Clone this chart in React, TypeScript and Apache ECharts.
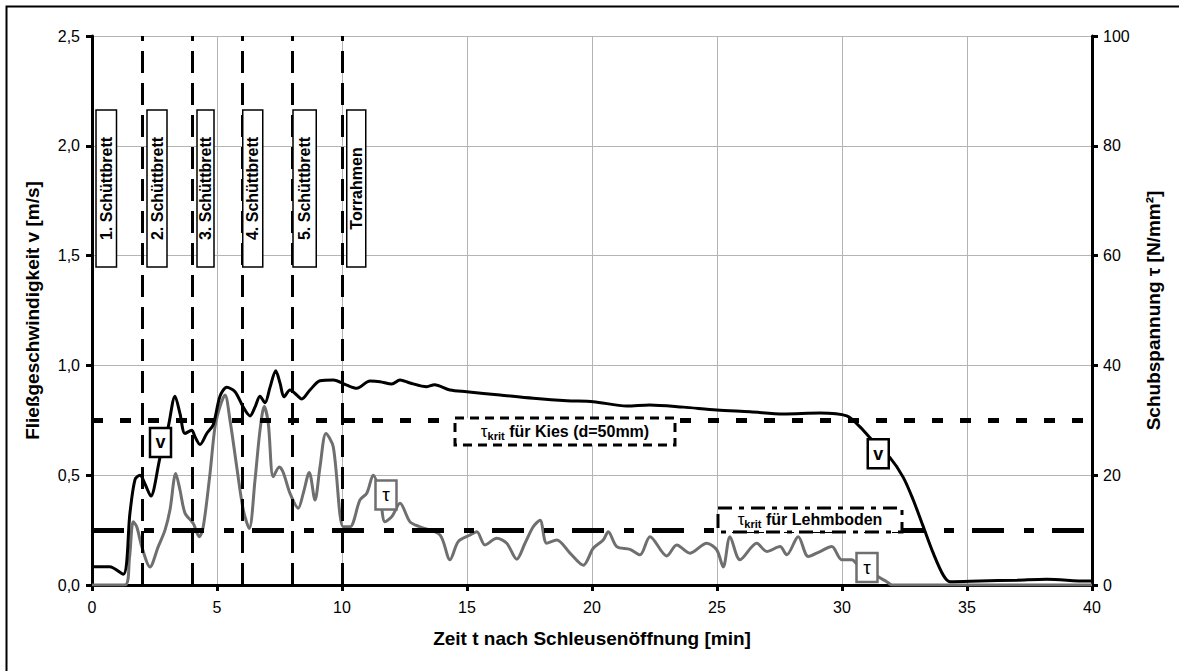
import React, { useEffect, useRef } from "react";
import * as echarts from "echarts";

// ---------- data ----------
const timeV = [0, 0.7, 1.25, 1.52, 1.72, 1.92, 2.12, 2.35, 2.72, 3.05, 3.32, 3.52, 3.72, 3.99, 4.12, 4.32, 4.59, 4.85, 5.12, 5.39, 5.72, 6.05, 6.32, 6.52, 6.72, 6.92, 7.12, 7.35, 7.52, 7.68, 7.92, 8.19, 8.39, 8.72, 9.12, 9.65, 10.19, 10.59, 11.12, 11.52, 11.99, 12.32, 12.72, 13.39, 13.7, 14.32, 14.99, 16.32, 17.65, 18.99, 20.05, 21.39, 22.3, 23.65, 24.99, 26.32, 27.65, 29.12, 30.19, 30.72, 31.12, 31.92, 32.45, 32.85, 33.25, 33.65, 34.05, 34.32, 35.5, 37, 38.19, 39.79, 40];
const velocity = [0.083, 0.083, 0.049, 0.33, 0.48, 0.5, 0.46, 0.405, 0.58, 0.72, 0.86, 0.78, 0.69, 0.705, 0.675, 0.64, 0.69, 0.73, 0.86, 0.9, 0.88, 0.81, 0.77, 0.81, 0.86, 0.83, 0.9, 0.976, 0.92, 0.857, 0.888, 0.865, 0.847, 0.888, 0.93, 0.934, 0.91, 0.896, 0.929, 0.926, 0.915, 0.934, 0.92, 0.903, 0.912, 0.888, 0.88, 0.865, 0.85, 0.839, 0.835, 0.815, 0.82, 0.81, 0.797, 0.789, 0.779, 0.783, 0.77, 0.72, 0.67, 0.58, 0.49, 0.387, 0.266, 0.145, 0.045, 0.015, 0.018, 0.022, 0.026, 0.018, 0.018];

const timeTau = [0, 1.32, 1.5, 1.65, 1.79, 1.99, 2.32, 2.65, 2.92, 3.12, 3.35, 3.52, 3.72, 4.05, 4.29, 4.45, 4.72, 4.92, 5.12, 5.32, 5.52, 5.79, 6.05, 6.29, 6.52, 6.72, 6.89, 7.05, 7.25, 7.49, 7.65, 7.92, 8.25, 8.45, 8.69, 8.92, 9.12, 9.36, 9.65, 10.05, 10.32, 10.72, 10.99, 11.25, 11.5, 11.72, 12.0, 12.32, 12.72, 13.12, 13.92, 14.32, 14.65, 15.12, 15.39, 15.72, 16.19, 16.59, 16.99, 17.32, 17.65, 17.92, 18.19, 18.59, 19.12, 19.65, 20.05, 20.45, 20.65, 20.99, 21.52, 21.92, 22.32, 22.99, 23.39, 23.92, 24.59, 24.99, 25.25, 25.52, 25.92, 26.59, 26.99, 27.52, 27.79, 28.25, 28.65, 29.12, 29.59, 29.99, 30.39, 30.65, 31.0, 31.45, 31.79, 32.0, 40];
const shear = [0, 0, 5, 11.5, 10.6, 7.0, 3.3, 7.0, 10.0, 13.7, 20.3, 17.3, 13.1, 11.2, 8.8, 10.6, 20.3, 28.8, 32.5, 34.6, 30.0, 21.5, 13.7, 10.3, 19.1, 28.2, 32.5, 29.5, 19.7, 21.5, 20.5, 16.7, 14.0, 16.7, 20.5, 15.5, 21.5, 27.6, 25.2, 10.6, 10.6, 15.5, 16.7, 20.0, 17.0, 11.5, 12.5, 14.9, 11.5, 10.6, 9.1, 4.6, 7.9, 9.1, 9.7, 7.3, 8.5, 7.6, 4.7, 7.6, 10.6, 11.8, 7.6, 8.2, 5.8, 3.6, 6.7, 8.2, 9.7, 7.0, 6.5, 5.5, 8.8, 5.3, 7.3, 5.8, 7.6, 6.4, 3.3, 8.8, 4.6, 7.6, 6.1, 7.0, 5.5, 8.8, 5.2, 6.1, 7.0, 4.6, 4.6, 3.6, 3.0, 1.5, 0.6, 0, 0];

const phaseLineT = [2, 4, 6, 8, 10];
const phaseLabels = ["1. Schüttbrett", "2. Schüttbrett", "3. Schüttbrett", "4. Schüttbrett", "5. Schüttbrett", "Torrahmen"];
const phaseBoxStart = [0.16, 2.2, 4.2, 6.03, 8.04, 10.19];
const phaseBoxEnd = [0.98, 3.0, 4.88, 6.83, 8.97, 10.95];
const phaseBoxTopV = 2.163;
const phaseBoxBottomV = 1.448;

const tauKies = 30;
const tauLehm = 10;
const critLabels = ["für Kies (d=50mm)", "für Lehmboden"];
const critLabelT = [18.92, 28.72];
const critLabelV = [0.699, 0.296];

const seriesTagText = ["v", "v", "τ", "τ"];
const seriesTagT = [2.74, 31.45, 11.76, 31.0];
const seriesTagV = [0.649, 0.598, 0.41, 0.08];

const FONT = "'Liberation Sans', Arial, Helvetica, sans-serif";
const GRAY = "#6f6f6f";

export default function App() {
  const ref = useRef<HTMLDivElement>(null);
  useEffect(() => {
    const chart = echarts.init(ref.current!, null, { renderer: "svg" });
    const vData = timeV.map((t, i) => [t, velocity[i]]);
    const tauData = timeTau.map((t, i) => [t, shear[i]]);
    chart.setOption({
      animation: false,
      backgroundColor: "#ffffff",
      textStyle: { fontFamily: FONT },
      grid: { left: 92, right: 87, top: 36, bottom: 86 },
      xAxis: {
        type: "value",
        min: 0,
        max: 40,
        interval: 5,
        name: "Zeit t nach Schleusenöffnung [min]",
        nameLocation: "middle",
        nameGap: 44,
        nameTextStyle: { fontSize: 19, fontWeight: "bold", color: "#000", fontFamily: FONT },
        axisLine: { lineStyle: { color: "#000", width: 3 } },
        axisTick: { show: true, length: 6, lineStyle: { color: "#000", width: 3 } },
        axisLabel: { fontSize: 16, color: "#000", margin: 14, fontFamily: FONT },
        splitLine: { show: true, lineStyle: { color: "#b4b4b4", width: 1 } },
      },
      yAxis: [
        {
          type: "value",
          min: 0,
          max: 2.5,
          interval: 0.5,
          position: "left",
          name: "Fließgeschwindigkeit v [m/s]",
          nameLocation: "middle",
          nameRotate: 90,
          nameGap: 50,
          nameTextStyle: { fontSize: 19, fontWeight: "bold", color: "#000", fontFamily: FONT },
          axisLine: { show: true, lineStyle: { color: "#000", width: 3 } },
          axisTick: { show: true, length: 6, lineStyle: { color: "#000", width: 3 } },
          axisLabel: {
            fontSize: 16,
            color: "#000",
            margin: 12,
            fontFamily: FONT,
            formatter: (val: number) => val.toFixed(1).replace(".", ","),
          },
          splitLine: { show: true, lineStyle: { color: "#b4b4b4", width: 1 } },
        },
        {
          type: "value",
          min: 0,
          max: 100,
          interval: 20,
          position: "right",
          name: "Schubspannung τ [N/mm²]",
          nameLocation: "middle",
          nameRotate: 90,
          nameGap: 52,
          nameTextStyle: { fontSize: 19, fontWeight: "bold", color: "#000", fontFamily: FONT },
          axisLine: { show: true, lineStyle: { color: "#000", width: 3 } },
          axisTick: { show: true, length: 6, lineStyle: { color: "#000", width: 3 } },
          axisLabel: { fontSize: 16, color: "#000", margin: 11, fontFamily: FONT },
          splitLine: { show: false },
        },
      ],
      series: [
        {
          name: "v",
          type: "line",
          yAxisIndex: 0,
          data: vData,
          smooth: 0.3,
          showSymbol: false,
          symbol: "none",
          lineStyle: { color: "#000", width: 3 },
          z: 4,
          markLine: {
            silent: true,
            symbol: "none",
            label: { show: false },
            lineStyle: { color: "#000", width: 3, type: [22, 10] },
            data: phaseLineT.map((t) => ({ xAxis: t })),
          },
        },
        {
          name: "τ",
          type: "line",
          yAxisIndex: 1,
          data: tauData,
          smooth: 0.3,
          showSymbol: false,
          symbol: "none",
          lineStyle: { color: GRAY, width: 3 },
          z: 3,
          markLine: {
            silent: true,
            symbol: "none",
            label: { show: false },
            data: [
              { yAxis: tauKies, lineStyle: { color: "#000", width: 5, type: [11, 17] } },
              { yAxis: tauLehm, lineStyle: { color: "#000", width: 5, type: [32, 20, 10, 18] } },
            ],
          },
        },
      ],
    });

    const px = (t: number, v: number) => chart.convertToPixel({ seriesIndex: 0 }, [t, v]) as number[];
    const els: any[] = [];
    // outer frame
    els.push({
      type: "rect",
      z: 200,
      silent: true,
      shape: { x: 6.5, y: 6.5, width: 1200, height: 700 },
      style: { fill: "none", stroke: "#000", lineWidth: 2 },
    });
    // phase boxes
    phaseLabels.forEach((lab, i) => {
      const p1 = px(phaseBoxStart[i], phaseBoxTopV);
      const p2 = px(phaseBoxEnd[i], phaseBoxBottomV);
      els.push({
        type: "rect",
        z: 100,
        shape: { x: p1[0], y: p1[1], width: p2[0] - p1[0], height: p2[1] - p1[1] },
        style: { fill: "#fff", stroke: "#000", lineWidth: 1.5 },
      });
      els.push({
        type: "text",
        z: 101,
        x: (p1[0] + p2[0]) / 2,
        y: (p1[1] + p2[1]) / 2,
        rotation: Math.PI / 2,
        style: {
          text: lab,
          fontSize: 16,
          fontWeight: "bold",
          fontFamily: FONT,
          fill: "#000",
          align: "center",
          verticalAlign: "middle",
        },
      });
    });
    // critical shear labels
    const critW = [220, 184];
    const critH = [27, 24];
    const critDash = [[9, 6], [14, 7, 5, 7]];
    critLabels.forEach((lab, i) => {
      const c = px(critLabelT[i], critLabelV[i]);
      els.push({
        type: "rect",
        z: 100,
        shape: { x: c[0] - critW[i] / 2, y: c[1] - critH[i] / 2, width: critW[i], height: critH[i] },
        style: { fill: "#fff", stroke: "#000", lineWidth: 3, lineDash: critDash[i] },
      });
      els.push({
        type: "text",
        z: 101,
        x: c[0],
        y: c[1],
        style: {
          text: "{a|τ}{b|krit} " + lab,
          fontSize: 16,
          fontWeight: "bold",
          fontFamily: FONT,
          fill: "#000",
          align: "center",
          verticalAlign: "middle",
          rich: {
            a: { fontSize: 17, fontWeight: "normal", fontFamily: FONT, fill: "#000", lineHeight: 20 },
            b: { fontSize: 11, fontWeight: "bold", fontFamily: FONT, fill: "#000", lineHeight: 20, verticalAlign: "bottom", padding: [8, 0, 0, 0] },
          },
        },
      });
    });
    // series tags
    seriesTagText.forEach((lab, i) => {
      const v = seriesTagV[i];
      const c = px(seriesTagT[i], v);
      const col = lab === "v" ? "#000" : GRAY;
      els.push({
        type: "rect",
        z: 100,
        shape: { x: c[0] - 10.5, y: c[1] - 14.5, width: 21, height: 29 },
        style: { fill: "#fff", stroke: col, lineWidth: 2.5 },
      });
      els.push({
        type: "text",
        z: 101,
        x: c[0],
        y: c[1],
        style: {
          text: lab,
          fontSize: lab === "v" ? 18 : 19,
          fontWeight: lab === "v" ? "bold" : "normal",
          fontFamily: FONT,
          fill: "#000",
          align: "center",
          verticalAlign: "middle",
        },
      });
    });
    chart.setOption({ graphic: { elements: els } });
    return () => chart.dispose();
  }, []);
  return <div ref={ref} style={{ position: "absolute", left: 0, top: 0, width: 1179, height: 671 }} />;
}
